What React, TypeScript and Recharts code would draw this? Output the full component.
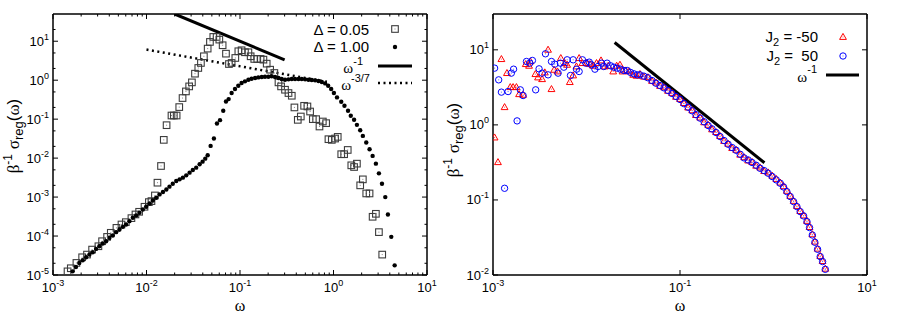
import React from 'react';
import { ScatterChart, Scatter, XAxis, YAxis, Customized } from 'recharts';

const SANS = '"Liberation Sans", Arial, Helvetica, sans-serif';
const SERIF = '"Liberation Serif", "DejaVu Serif", serif';

// ---- left panel: Delta = 0.05 (open squares)
const sqOmega = [
  1.43e-3, 1.55e-3, 1.78e-3, 2.05e-3, 2.31e-3, 2.62e-3, 3.06e-3, 3.35e-3, 3.79e-3, 4.15e-3,
  4.77e-3, 5.4e-3, 6.01e-3, 6.9e-3, 7.62e-3, 8.34e-3, 9.52e-3, 1.06e-2, 1.13e-2, 1.23e-2,
  1.31e-2, 1.43e-2, 1.53e-2, 1.64e-2, 1.85e-2, 1.96e-2, 2.1e-2, 2.24e-2, 2.43e-2, 2.64e-2,
  2.86e-2, 3.06e-2, 3.3e-2, 3.58e-2, 3.82e-2, 4.11e-2, 4.51e-2, 4.77e-2, 5.18e-2, 5.62e-2,
  6.01e-2, 6.52e-2, 7.08e-2, 7.62e-2, 8.14e-2, 8.91e-2, 9.6e-2, 0.104, 0.113, 0.123,
  0.13, 0.142, 0.153, 0.166, 0.178, 0.193, 0.21, 0.233, 0.258, 0.275,
  0.303, 0.33, 0.358, 0.382, 0.415, 0.447, 0.485, 0.526, 0.562, 0.601,
  0.652, 0.708, 0.769, 0.834, 0.883, 0.959, 1.04, 1.11, 1.21, 1.3,
  1.42, 1.55, 1.66, 1.78, 1.93, 2.06, 2.24, 2.43, 2.62, 2.84,
  3.06, 3.32,
];
const sqSigma = [
  1.24e-5, 1.49e-5, 2.04e-5, 2.85e-5, 3.34e-5, 4.49e-5, 5.47e-5, 7.36e-5, 9.5e-5, 1.21e-4,
  1.62e-4, 1.98e-4, 2.27e-4, 2.88e-4, 3.58e-4, 4.19e-4, 5.64e-4, 7.43e-4, 7.88e-4, 1.1e-3,
  2.34e-3, 6.28e-3, 2.94e-2, 7.0e-2, 0.124, 0.124, 0.124, 0.204, 0.348, 0.515,
  0.693, 0.879, 1.47, 2.06, 2.77, 4.11, 6.47, 9.6, 12.9, 12.9,
  11.0, 7.89, 4.8, 2.6, 2.77, 3.72, 5.53, 5.86, 5.21, 5.21,
  4.11, 3.51, 3.51, 3.51, 3.37, 2.66, 1.86, 1.53, 0.879, 0.693,
  0.569, 0.468, 0.399, 0.2, 0.096, 0.117, 0.22, 0.212, 0.157, 0.1,
  0.1, 0.0648, 0.087, 0.0789, 0.0306, 0.0294, 0.0318, 0.0351, 0.0126, 0.0126,
  0.0162, 0.00653, 0.00592, 0.00721, 0.002, 0.00285, 0.00124, 0.00124, 3.12e-4, 3.72e-4,
  1.26e-4, 3.34e-5,
];

// ---- left panel: Delta = 1.00 (filled dots)
const dotOmega = [
  1.62e-3, 1.76e-3, 1.91e-3, 2.08e-3, 2.26e-3, 2.45e-3, 2.66e-3, 2.89e-3, 3.13e-3, 3.4e-3,
  3.7e-3, 4.01e-3, 4.36e-3, 4.73e-3, 5.14e-3, 5.58e-3, 6.05e-3, 6.57e-3, 7.14e-3, 7.75e-3,
  8.41e-3, 9.14e-3, 9.91e-3, 1.08e-2, 1.17e-2, 1.27e-2, 1.38e-2, 1.5e-2, 1.63e-2, 1.76e-2,
  1.91e-2, 2.08e-2, 2.26e-2, 2.45e-2, 2.66e-2, 2.89e-2, 3.13e-2, 3.4e-2, 3.7e-2, 3.98e-2,
  4.25e-2, 4.51e-2, 4.85e-2, 5.26e-2, 5.67e-2, 6.11e-2, 6.62e-2, 7.08e-2, 7.56e-2, 8.14e-2,
  8.84e-2, 9.59e-2, 0.104, 0.113, 0.123, 0.133, 0.145, 0.157, 0.171, 0.185,
  0.201, 0.218, 0.237, 0.258, 0.279, 0.303, 0.33, 0.358, 0.388, 0.422,
  0.458, 0.497, 0.54, 0.586, 0.636, 0.691, 0.75, 0.814, 0.877, 0.944,
  1.01, 1.09, 1.21, 1.31, 1.43, 1.53, 1.66, 1.78, 1.93, 2.06,
  2.24, 2.43, 2.62, 2.84, 3.06, 3.3, 3.58, 3.82, 4.15, 4.51,
];
const dotSigma = [
  1.24e-5, 1.61e-5, 2.04e-5, 2.39e-5, 2.85e-5, 3.34e-5, 3.84e-5, 4.68e-5, 5.47e-5, 6.41e-5,
  7.36e-5, 8.97e-5, 1.03e-4, 1.26e-4, 1.47e-4, 1.72e-4, 1.98e-4, 2.41e-4, 2.94e-4, 3.37e-4,
  3.95e-4, 4.81e-4, 5.64e-4, 6.87e-4, 8.2e-4, 9.61e-4, 1.17e-3, 1.35e-3, 1.57e-3, 1.85e-3,
  2.2e-3, 2.58e-3, 2.85e-3, 3.15e-3, 3.61e-3, 4.23e-3, 4.96e-3, 5.69e-3, 6.93e-3, 8.12e-3,
  9.7e-3, 1.18e-2, 2.06e-2, 3.18e-2, 7.72e-2, 9.42e-2, 0.164, 0.285, 0.327, 0.468,
  0.593, 0.722, 0.845, 0.933, 1.03, 1.09, 1.14, 1.18, 1.21, 1.23,
  1.23, 1.26, 1.21, 1.14, 1.07, 1.03, 1.05, 1.07, 1.07, 1.07,
  1.07, 1.05, 1.03, 1.01, 0.99, 0.953, 0.897, 0.828, 0.722, 0.593,
  0.468, 0.362, 0.279, 0.22, 0.164, 0.122, 0.0962, 0.0715, 0.0521, 0.0372,
  0.0251, 0.0169, 0.0114, 0.00722, 0.00406, 0.0022, 0.001, 3.58e-4, 9.52e-5, 1.77e-5,
];

// ---- left panel power laws
const lawM1Omega = [0.02, 0.3];
const lawM1Sigma = [50, 3.33];
const law37Omega = [0.01, 0.85];
const law37Sigma = [6.1, 0.91];

// ---- right panel: J2 = -50 (red triangles)
const redOmega = [
  1.04e-3, 1.13e-3, 1.23e-3, 1.33e-3, 1.41e-3, 1.53e-3, 1.64e-3, 1.78e-3, 1.9e-3, 2.1e-3,
  2.24e-3, 2.43e-3, 2.51e-3, 2.84e-3, 3.03e-3, 3.35e-3, 3.58e-3, 3.88e-3, 4.22e-3, 4.51e-3,
  4.89e-3, 5.31e-3, 5.86e-3, 6.21e-3, 6.63e-3, 7.2e-3, 7.81e-3, 8.34e-3, 9.05e-3, 1.0e-2,
  1.09e-2, 1.18e-2, 1.28e-2, 1.43e-2, 1.57e-2, 1.71e-2, 1.93e-2, 2.1e-2, 2.28e-2, 2.43e-2,
  2.64e-2, 2.86e-2, 3.16e-2, 3.43e-2,
];
const redSigma = [
  0.678, 0.318, 7.51, 1.72, 4.89, 3.18, 3.18, 3.18, 2.56, 2.51,
  6.44, 6.12, 6.99, 4.74, 4.28, 4.06, 4.99, 10.0, 2.99, 5.41,
  5.14, 7.74, 6.64, 6.31, 3.71, 4.55, 5.99, 7.74, 6.64, 6.64,
  6.44, 6.12, 6.64, 7.21, 5.99, 6.12, 5.14, 6.12, 6.31, 5.14,
  5.3, 5.14, 4.64, 4.5,
];

// ---- right panel: J2 = 50 (blue circles)
const blueOmega = [
  1.04e-3, 1.15e-3, 1.23e-3, 1.33e-3, 1.45e-3, 1.57e-3, 1.66e-3, 1.81e-3, 1.96e-3, 2.1e-3,
  2.28e-3, 2.47e-3, 2.64e-3, 2.86e-3, 3.11e-3, 3.35e-3, 3.64e-3, 3.88e-3, 4.22e-3, 4.58e-3,
  4.97e-3, 5.26e-3, 5.72e-3, 6.21e-3, 6.74e-3, 7.2e-3, 7.81e-3, 8.34e-3, 9.05e-3, 9.84e-3,
  1.07e-2, 1.13e-2, 1.23e-2, 1.33e-2, 1.45e-2, 1.53e-2, 1.66e-2, 1.81e-2, 1.96e-2, 2.13e-2,
  2.31e-2, 2.51e-2, 2.73e-2, 2.96e-2, 3.21e-2, 3.49e-2,
];
const blueSigma = [
  5.7, 3.98, 2.73, 0.143, 2.78, 4.89, 5.52, 1.13, 2.93, 2.46,
  6.99, 6.64, 7.21, 2.93, 5.58, 4.89, 8.85, 4.64, 6.99, 6.44,
  4.89, 6.64, 5.87, 7.36, 4.55, 7.36, 5.52, 5.14, 7.36, 6.64,
  6.85, 6.31, 5.52, 5.99, 6.64, 5.99, 6.64, 6.12, 5.87, 5.7,
  5.52, 5.3, 5.3, 4.99, 4.79, 4.64,
];

// ---- right panel: high-frequency tail (both couplings)
const tailOmega = [
  0.0373, 0.0411, 0.0454, 0.0501, 0.0553, 0.0611, 0.0675, 0.0743, 0.082, 0.0906,
  0.1, 0.11, 0.122, 0.135, 0.148, 0.164, 0.181, 0.2, 0.22, 0.243,
  0.268, 0.296, 0.327, 0.361, 0.398, 0.44, 0.485, 0.535, 0.59, 0.652,
  0.719, 0.794, 0.877, 0.968, 1.07, 1.18, 1.28, 1.39, 1.51, 1.64,
  1.78, 1.93, 2.1, 2.28, 2.43, 2.6, 2.77, 2.96, 3.16, 3.35,
  3.58,
];
const blueTailSigma = [
  4.64, 4.46, 4.24, 3.9, 3.59, 3.34, 3.11, 2.87, 2.62, 2.39,
  2.18, 1.92, 1.72, 1.54, 1.37, 1.23, 1.1, 0.98, 0.885, 0.791,
  0.699, 0.618, 0.552, 0.499, 0.459, 0.406, 0.363, 0.341, 0.315, 0.29,
  0.264, 0.246, 0.227, 0.205, 0.185, 0.167, 0.149, 0.129, 0.111, 0.095,
  0.0815, 0.0699, 0.0612, 0.0514, 0.0428, 0.0341, 0.0273, 0.022, 0.0176, 0.0151,
  0.0119,
];
const redTailSigma = [
  4.75, 4.38, 4.3, 3.85, 3.66, 3.3, 3.16, 2.84, 2.66, 2.36,
  2.21, 1.95, 1.7, 1.56, 1.35, 1.25, 1.08, 1.0, 0.87, 0.8,
  0.71, 0.61, 0.56, 0.49, 0.465, 0.4, 0.37, 0.335, 0.32, 0.285,
  0.27, 0.242, 0.232, 0.21, 0.19, 0.17, 0.152, 0.132, 0.113, 0.097,
  0.083, 0.071, 0.062, 0.0525, 0.0435, 0.0348, 0.0278, 0.0224, 0.0179, 0.0153,
  0.0121,
];

const rLawOmega = [0.02, 0.8];
const rLawSigma = [12.5, 0.3125];

// ---- ticks
const leftXMajor = [1e-3, 1e-2, 1e-1, 1, 10];
const leftYMajor = [1e-5, 1e-4, 1e-3, 1e-2, 1e-1, 1, 10];
const rightXMajor = [1e-3, 1e-1, 10];
const rightYMajor = [1e-2, 1e-1, 1, 10];

const leftXTicks = [
  ...leftXMajor,
  ...leftXMajor.slice(0, -1).flatMap((d) => [2, 3, 4, 5, 6, 7, 8, 9].map((m) => m * d)),
];
const leftYTicks = [
  ...leftYMajor,
  ...leftYMajor.flatMap((d) => [2, 5].map((m) => m * d)).filter((v) => v < 45),
];

const pts = (w: number[], s: number[]) => w.map((x, i) => ({ x, y: s[i] }));

const isMajor = (v: number, majors: number[]) => majors.some((m) => Math.abs(m - v) / m < 1e-6);
const expOf = (v: number) => String(Math.round(Math.log10(v)));

function makeTick(side: 'bottom' | 'top' | 'left' | 'right', majors: number[]) {
  return (props: any) => {
    const { x, y, payload } = props;
    const v = payload.value;
    const major = isMajor(v, majors);
    const len = major ? 5 : 2.5;
    let line;
    if (side === 'bottom') line = <line x1={x} x2={x} y1={y} y2={y - len} stroke="#000" />;
    else if (side === 'top') line = <line x1={x} x2={x} y1={y} y2={y + len} stroke="#000" />;
    else if (side === 'left') line = <line x1={x} x2={x + len} y1={y} y2={y} stroke="#000" />;
    else line = <line x1={x} x2={x - len} y1={y} y2={y} stroke="#000" />;
    let label = null;
    if (major && side === 'bottom') {
      label = (
        <text x={x} y={y + 17} textAnchor="middle" fontSize={13} fontFamily={SANS} fill="#000">
          10<tspan fontSize={9} dy={-6}>{expOf(v)}</tspan>
        </text>
      );
    } else if (major && side === 'left') {
      label = (
        <text x={x - 4} y={y + 4.5} textAnchor="end" fontSize={13} fontFamily={SANS} fill="#000">
          10<tspan fontSize={9} dy={-6}>{expOf(v)}</tspan>
        </text>
      );
    }
    return (
      <g>
        {line}
        {label}
      </g>
    );
  };
}

const SquareMark = (p: any) =>
  p.cx == null ? <g /> : (
    <g>
      <rect x={p.cx - 3.3} y={p.cy - 3.3} width={6.6} height={6.6} fill="none" stroke="#3c3c3c" strokeWidth={1.1} />
      <rect x={p.cx - 0.5} y={p.cy - 0.5} width={1} height={1} fill="#888" />
    </g>
  );
const DotMark = (p: any) => (p.cx == null ? <g /> : <circle cx={p.cx} cy={p.cy} r={2.2} fill="#000" />);
const TriMark = (p: any) =>
  p.cx == null ? <g /> : (
    <g>
      <path
        d={`M${p.cx},${p.cy - 3.6} L${p.cx + 3.4},${p.cy + 2.4} L${p.cx - 3.4},${p.cy + 2.4} Z`}
        fill="none"
        stroke="#ff0000"
        strokeWidth={1}
      />
      <rect x={p.cx - 0.5} y={p.cy - 0.5} width={1} height={1} fill="#ff6060" />
    </g>
  );
const CircMark = (p: any) =>
  p.cx == null ? <g /> : (
    <g>
      <circle cx={p.cx} cy={p.cy} r={3.2} fill="none" stroke="#0000ff" strokeWidth={1} />
      <rect x={p.cx - 0.5} y={p.cy - 0.5} width={1} height={1} fill="#6060ff" />
    </g>
  );
const NoMark = () => <g />;

const axisLine = { stroke: '#000', strokeWidth: 1.5 };

function YTitle({ x, y }: { x: number; y: number }) {
  return (
    <text transform={`translate(${x},${y}) rotate(-90)`} textAnchor="middle" fontSize={17} fontFamily={SANS} fill="#000">
      <tspan fontFamily={SERIF}>β</tspan>
      <tspan fontSize={12} dy={-7}>-1</tspan>
      <tspan dy={7}> </tspan>
      <tspan fontFamily={SERIF}>σ</tspan>
      <tspan fontSize={13} dy={4}>reg</tspan>
      <tspan dy={-4}>(</tspan>
      <tspan fontFamily={SERIF}>ω</tspan>
      <tspan>)</tspan>
    </text>
  );
}

function LeftDecor() {
  return (
    <g>
      <YTitle x={19} y={136} />
      <text x={240} y={311} textAnchor="middle" fontSize={16} fontFamily={SERIF}>ω</text>
      <text x={369} y={35} textAnchor="end" fontSize={15} fontFamily={SANS}>
        Δ = 0.05
      </text>
      <SquareMark cx={395} cy={29} />
      <text x={369} y={52} textAnchor="end" fontSize={15} fontFamily={SANS}>
        Δ = 1.00
      </text>
      <DotMark cx={395} cy={47} />
      <text x={363} y={73} textAnchor="end" fontSize={15} fontFamily={SANS}>
        <tspan fontFamily={SERIF}>ω</tspan>
        <tspan fontSize={11} dy={-8}>-1</tspan>
      </text>
      <line x1={378} x2={412} y1={66} y2={66} stroke="#000" strokeWidth={3} />
      <text x={370} y={90} textAnchor="end" fontSize={15} fontFamily={SANS}>
        <tspan fontFamily={SERIF}>ω</tspan>
        <tspan fontSize={11} dy={-8}>-3/7</tspan>
      </text>
      <line x1={378} x2={412} y1={83} y2={83} stroke="#000" strokeWidth={2.5} strokeDasharray="2 3.5" />
    </g>
  );
}

function RightDecor() {
  return (
    <g>
      <YTitle x={29} y={140} />
      <text x={250} y={311} textAnchor="middle" fontSize={16} fontFamily={SERIF}>ω</text>
      <text x={388} y={42} textAnchor="end" fontSize={15} fontFamily={SANS} style={{ whiteSpace: 'pre' }}>
        J<tspan fontSize={11} dy={4}>2</tspan>
        <tspan dy={-4}>{' = -50'}</tspan>
      </text>
      <TriMark cx={413} cy={37} />
      <text x={388} y={61} textAnchor="end" fontSize={15} fontFamily={SANS} style={{ whiteSpace: 'pre' }}>
        J<tspan fontSize={11} dy={4}>2</tspan>
        <tspan dy={-4}>{' =  50'}</tspan>
      </text>
      <CircMark cx={413} cy={56} />
      <text x={387} y={82} textAnchor="end" fontSize={15} fontFamily={SANS}>
        <tspan fontFamily={SERIF}>ω</tspan>
        <tspan fontSize={11} dy={-9}>-1</tspan>
      </text>
      <line x1={396} x2={429} y1={75} y2={75} stroke="#000" strokeWidth={3} />
    </g>
  );
}

function LeftPanel() {
  return (
    <ScatterChart width={450} height={315} margin={{ top: 13, right: 22, bottom: 39, left: 52 }}>
      <XAxis xAxisId="b" dataKey="x" type="number" scale="log" domain={[1e-3, 10]} allowDataOverflow
        ticks={leftXTicks} interval={0} tick={makeTick('bottom', leftXMajor)} tickLine={false}
        tickSize={0} tickMargin={0} height={1} axisLine={axisLine} />
      <XAxis xAxisId="t" orientation="top" dataKey="x" type="number" scale="log" domain={[1e-3, 10]} allowDataOverflow
        ticks={leftXTicks} interval={0} tick={makeTick('top', leftXMajor)} tickLine={false}
        tickSize={0} tickMargin={0} height={1} axisLine={axisLine} />
      <YAxis yAxisId="l" dataKey="y" type="number" scale="log" domain={[1e-5, 50]} allowDataOverflow
        ticks={leftYTicks} interval={0} tick={makeTick('left', leftYMajor)} tickLine={false}
        tickSize={0} tickMargin={0} width={1} axisLine={axisLine} />
      <YAxis yAxisId="r" orientation="right" dataKey="y" type="number" scale="log" domain={[1e-5, 50]} allowDataOverflow
        ticks={leftYTicks} interval={0} tick={makeTick('right', leftYMajor)} tickLine={false}
        tickSize={0} tickMargin={0} width={1} axisLine={axisLine} />
      <Scatter xAxisId="b" yAxisId="l" data={pts(law37Omega, law37Sigma)} shape={NoMark} isAnimationActive={false}
        line={{ stroke: '#000', strokeWidth: 2.5, strokeDasharray: '2 3.5' }} fill="#000" />
      <Scatter xAxisId="b" yAxisId="l" data={pts(lawM1Omega, lawM1Sigma)} shape={NoMark} isAnimationActive={false}
        line={{ stroke: '#000', strokeWidth: 3 }} fill="#000" />
      <Scatter xAxisId="b" yAxisId="l" data={pts(sqOmega, sqSigma)} shape={SquareMark} isAnimationActive={false} />
      <Scatter xAxisId="b" yAxisId="l" data={pts(dotOmega, dotSigma)} shape={DotMark} isAnimationActive={false} />
      <Customized component={LeftDecor} />
    </ScatterChart>
  );
}

function RightPanel() {
  return (
    <ScatterChart width={469} height={315} margin={{ top: 13, right: 31, bottom: 39, left: 62 }}>
      <XAxis xAxisId="b" dataKey="x" type="number" scale="log" domain={[1e-3, 10]} allowDataOverflow
        ticks={rightXMajor} interval={0} tick={makeTick('bottom', rightXMajor)} tickLine={false}
        tickSize={0} tickMargin={0} height={1} axisLine={axisLine} />
      <XAxis xAxisId="t" orientation="top" dataKey="x" type="number" scale="log" domain={[1e-3, 10]} allowDataOverflow
        ticks={rightXMajor} interval={0} tick={makeTick('top', rightXMajor)} tickLine={false}
        tickSize={0} tickMargin={0} height={1} axisLine={axisLine} />
      <YAxis yAxisId="l" dataKey="y" type="number" scale="log" domain={[1e-2, 30]} allowDataOverflow
        ticks={rightYMajor} interval={0} tick={makeTick('left', rightYMajor)} tickLine={false}
        tickSize={0} tickMargin={0} width={1} axisLine={axisLine} />
      <YAxis yAxisId="r" orientation="right" dataKey="y" type="number" scale="log" domain={[1e-2, 30]} allowDataOverflow
        ticks={rightYMajor} interval={0} tick={makeTick('right', rightYMajor)} tickLine={false}
        tickSize={0} tickMargin={0} width={1} axisLine={axisLine} />
      <Scatter xAxisId="b" yAxisId="l" data={pts(rLawOmega, rLawSigma)} shape={NoMark} isAnimationActive={false}
        line={{ stroke: '#000', strokeWidth: 3 }} fill="#000" />
      <Scatter xAxisId="b" yAxisId="l"
        data={[...pts(redOmega, redSigma), ...pts(tailOmega, redTailSigma)]}
        shape={TriMark} isAnimationActive={false} />
      <Scatter xAxisId="b" yAxisId="l"
        data={[...pts(blueOmega, blueSigma), ...pts(tailOmega, blueTailSigma)]}
        shape={CircMark} isAnimationActive={false} />
      <Customized component={RightDecor} />
    </ScatterChart>
  );
}

export default function App() {
  return (
    <div style={{ position: 'absolute', left: 0, top: 0, width: 899, height: 315, background: '#fff', fontFamily: SANS }}>
      <div style={{ position: 'absolute', left: 0, top: 0 }}>
        <LeftPanel />
      </div>
      <div style={{ position: 'absolute', left: 430, top: 0 }}>
        <RightPanel />
      </div>
    </div>
  );
}
